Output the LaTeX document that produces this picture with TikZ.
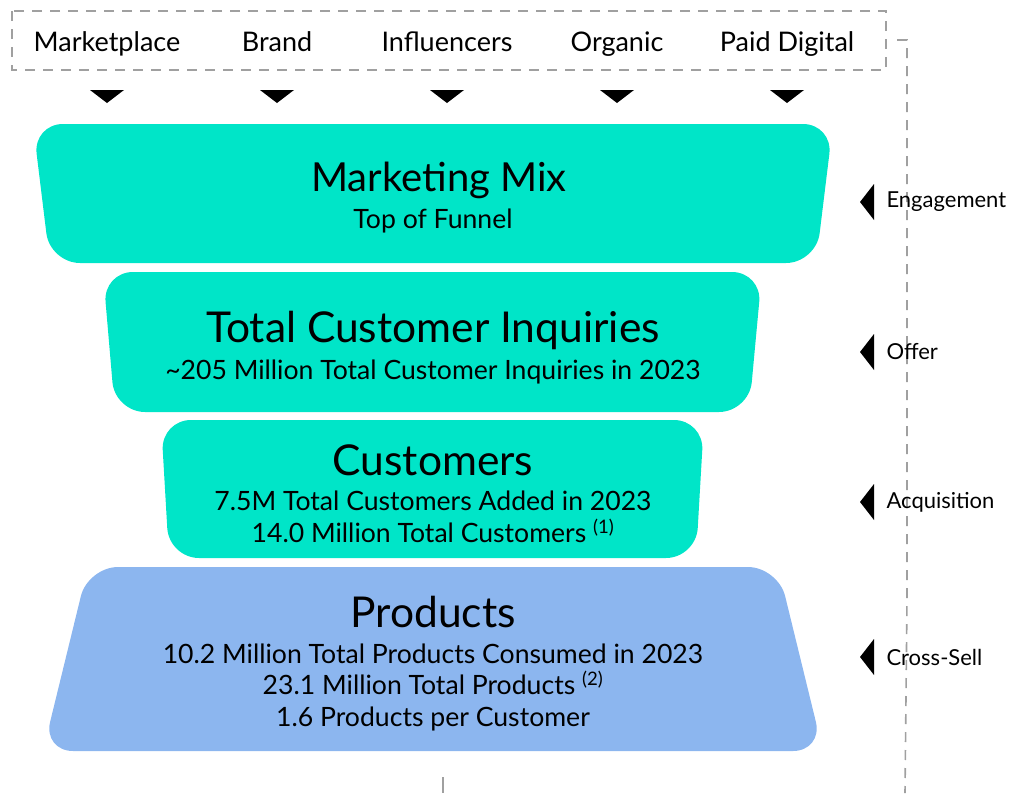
\documentclass[tikz,border=0pt]{standalone}
\usepackage{fontspec}
\setmainfont{Lato}
\definecolor{teal1}{RGB}{0,229,200}
\definecolor{blue1}{RGB}{140,182,239}
\definecolor{dgray}{RGB}{160,160,160}
\begin{document}
\begin{tikzpicture}[x=1pt,y=-1pt,
  funnel/.style={rounded corners=30pt},
  chan/.style={font=\fontsize{27}{30}\selectfont, anchor=base, inner sep=0pt},
  ttl/.style={font=\fontsize{42.5}{48}\selectfont, anchor=center},
  sub/.style={font=\fontsize{26.6}{31.5}\selectfont, align=center, anchor=center, inner sep=0pt},
  side/.style={font=\fontsize{22}{26}\selectfont, anchor=west},
  dtri/.style={fill=black},
  grayline/.style={draw=dgray, line width=1.6pt, dash pattern=on 10pt off 8pt}]
\useasboundingbox (0,0) rectangle (1012,793);

% funnel shapes
\fill[teal1, funnel] (33,124) -- (833,124) -- (816,263) -- (50,263) -- cycle;
\fill[teal1, funnel] (103,272) -- (762,272) -- (749,412) -- (115,412) -- cycle;
\fill[teal1, funnel] (161,420) -- (704,420) -- (696,558) -- (169,558) -- cycle;
\fill[blue1, funnel] (88,567) -- (778,567) -- (823,751) -- (43,751) -- cycle;

% top channel box
\draw[grayline] (12,11) rectangle (886,70);
\node[chan] (c1) at (107,51) {Marketplace};
\node[chan] (c2) at (277,51) {Brand};
\node[chan] (c3) at (447,51) {Influencers};
\node[chan] (c4) at (617,51) {Organic};
\node[chan] (c5) at (787,51) {Paid Digital};
\foreach \i/\x in {1/107,2/277,3/447,4/617,5/787}{
  \fill[dtri] (\x-17,90) -- (\x+17,90) -- (\x,103) -- cycle;
}

% right dashed line
\coordinate (r0) at (897,40);
\coordinate (r1) at (907,40);
\coordinate (r2) at (905,793);
\draw[grayline] (r0) -- (r1) -- (907,600) -- (r2);
\coordinate (b0) at (443,777);
\coordinate (b1) at (443,793);
\draw[draw=dgray, line width=1.6pt] (b0) -- (b1);

% stage labels
\foreach \y/\t/\n in {202/Engagement/s1,352/Offer/s2,502/Acquisition/s3,657/Cross-Sell/s4}{
  \fill[black] (874,\y-18) -- (874,\y+18) -- (860,\y) -- cycle;
  \node[side] (\n) at (883,\y) {\t};
}

% texts
\node[ttl, font=\fontsize{40}{46}\selectfont] (t1) at (439,180) {Marketing Mix};
\node[sub] (u1) at (433,221) {Top of Funnel};
\node[ttl] (t2) at (433,330) {Total Customer Inquiries};
\node[sub] (u2) at (433,372) {\textasciitilde 205 Million Total Customer Inquiries in 2023};
\node[ttl] (t3) at (433,460) {Customers};
\node[sub] (u3) at (433,517) {7.5M Total Customers Added in 2023\\14.0 Million Total Customers \textsuperscript{(1)}};
\node[ttl] (t4) at (433,612) {Products};
\node[sub] (u4) at (433,687) {10.2 Million Total Products Consumed in 2023\\23.1 Million Total Products \textsuperscript{(2)}\\1.6 Products per Customer};
\end{tikzpicture}
\end{document}
